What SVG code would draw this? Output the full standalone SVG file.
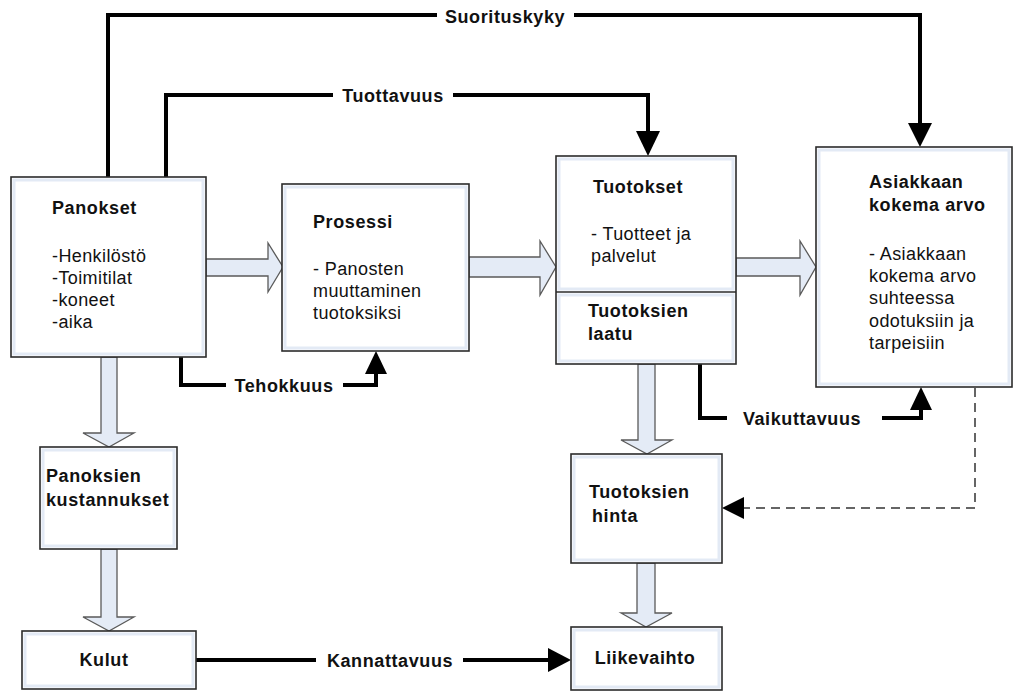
<svg xmlns="http://www.w3.org/2000/svg" width="1016" height="691" viewBox="0 0 1016 691">
<style>
.box{fill:#ffffff;stroke:#2b2b2b;stroke-width:1.6}
.inner{fill:none;stroke:#e3eaf5;stroke-width:3}
.blk{fill:#e4ebf6;stroke:#5a5a5a;stroke-width:1.3;stroke-linejoin:miter}
.con{fill:none;stroke:#000;stroke-width:4;stroke-linejoin:miter}
.dash{fill:none;stroke:#333;stroke-width:1.5;stroke-dasharray:9,6}
.head{fill:#000}
text{font-family:"Liberation Sans",Arial,sans-serif;font-size:18px;fill:#111;letter-spacing:0.4px}
.b{font-weight:bold;letter-spacing:0.6px}
</style>
<rect width="1016" height="691" fill="#ffffff"/>
<g id="connectors">
<path class="con" d="M108,177 V15 H437"/>
<path class="con" d="M574,15 H920 V124"/>
<polygon class="head" points="908,123 932,123 920,147"/>
<path class="con" d="M166,177 V95 H333"/>
<path class="con" d="M453,95 H648 V132"/>
<polygon class="head" points="636,131 660,131 648,156"/>
<path class="con" d="M181,357 V385 H226"/>
<path class="con" d="M343,385 H376 V373"/>
<polygon class="head" points="365,374 387,374 376,351"/>
<path class="con" d="M700,364 V418 H727"/>
<path class="con" d="M882,418 H921 V408"/>
<polygon class="head" points="910,410 932,410 921,387"/>
<path class="dash" d="M975,388 V508 H744"/>
<polygon class="head" points="744,497 744,519 722,508"/>
<path class="con" d="M196,660 H316"/>
<path class="con" d="M463,660 H549"/>
<polygon class="head" points="548,648 548,672 571,660"/>
<text class="b" x="505" y="23" text-anchor="middle">Suorituskyky</text>
<text class="b" x="393" y="102" text-anchor="middle">Tuottavuus</text>
<text class="b" x="284" y="392" text-anchor="middle">Tehokkuus</text>
<text class="b" x="802" y="425" text-anchor="middle">Vaikuttavuus</text>
<text class="b" x="390" y="667" text-anchor="middle">Kannattavuus</text>
</g>
<g id="flow-arrows">
<path class="blk" d="M206,259 H268 V243 L283,267 L268,292 V276 H206 Z"/>
<path class="blk" d="M469,257 H540 V241 L556,267 L540,295 V277 H469 Z"/>
<path class="blk" d="M736,258 H800 V241 L816,267 L800,295 V276 H736 Z"/>
<path class="blk" d="M101,357 V433 H83 L109,447 L134,433 H117 V357 Z"/>
<path class="blk" d="M101,549 V617 H83 L109,631 L134,617 H117 V549 Z"/>
<path class="blk" d="M638,364 V440 H621 L647,454 L672,440 H655 V364 Z"/>
<path class="blk" d="M637,563 V613 H621 L646,627 L672,613 H655 V563 Z"/>
</g>
<g id="panokset">
<rect class="box" x="11" y="177" width="195" height="180"/>
<rect class="inner" x="14" y="180" width="189" height="174"/>
<text class="b" x="52" y="214">Panokset</text>
<text x="52" y="262">-Henkilöstö</text>
<text x="52" y="284">-Toimitilat</text>
<text x="52" y="306">-koneet</text>
<text x="52" y="328">-aika</text>
</g>
<g id="prosessi">
<rect class="box" x="282" y="184" width="187" height="167"/>
<rect class="inner" x="285" y="187" width="181" height="161"/>
<text class="b" x="313" y="228">Prosessi</text>
<text x="313" y="275">- Panosten</text>
<text x="313" y="297">muuttaminen</text>
<text x="313" y="319">tuotoksiksi</text>
</g>
<g id="tuotokset">
<rect class="box" x="556" y="156" width="180" height="208"/>
<rect class="inner" x="559" y="159" width="174" height="130"/>
<rect class="inner" x="559" y="295" width="174" height="66"/>
<line x1="556" y1="292" x2="736" y2="292" stroke="#2b2b2b" stroke-width="1.6"/>
<text class="b" x="593" y="193">Tuotokset</text>
<text x="591" y="240">- Tuotteet ja</text>
<text x="591" y="262">palvelut</text>
<text class="b" x="588" y="317">Tuotoksien</text>
<text class="b" x="588" y="340">laatu</text>
</g>
<g id="asiakkaan-arvo">
<rect class="box" x="816" y="147" width="196" height="240"/>
<rect class="inner" x="819" y="150" width="190" height="234"/>
<text class="b" x="869" y="188">Asiakkaan</text>
<text class="b" x="869" y="211">kokema arvo</text>
<text x="869" y="260">- Asiakkaan</text>
<text x="869" y="282">kokema arvo</text>
<text x="869" y="304">suhteessa</text>
<text x="869" y="327">odotuksiin ja</text>
<text x="869" y="349">tarpeisiin</text>
</g>
<g id="panoksien-kustannukset">
<rect class="box" x="40" y="447" width="137" height="102"/>
<rect class="inner" x="43" y="450" width="131" height="96"/>
<text class="b" x="46" y="482">Panoksien</text>
<text class="b" x="46" y="506">kustannukset</text>
</g>
<g id="kulut">
<rect class="box" x="22" y="631" width="174" height="58"/>
<rect class="inner" x="25" y="634" width="168" height="52"/>
<text class="b" x="104" y="666" text-anchor="middle">Kulut</text>
</g>
<g id="tuotoksien-hinta">
<rect class="box" x="571" y="454" width="151" height="109"/>
<rect class="inner" x="574" y="457" width="145" height="103"/>
<text class="b" x="589" y="498">Tuotoksien</text>
<text class="b" x="592" y="522">hinta</text>
</g>
<g id="liikevaihto">
<rect class="box" x="571" y="627" width="151" height="63"/>
<rect class="inner" x="574" y="630" width="145" height="57"/>
<text class="b" x="645" y="664" text-anchor="middle">Liikevaihto</text>
</g>
</svg>
